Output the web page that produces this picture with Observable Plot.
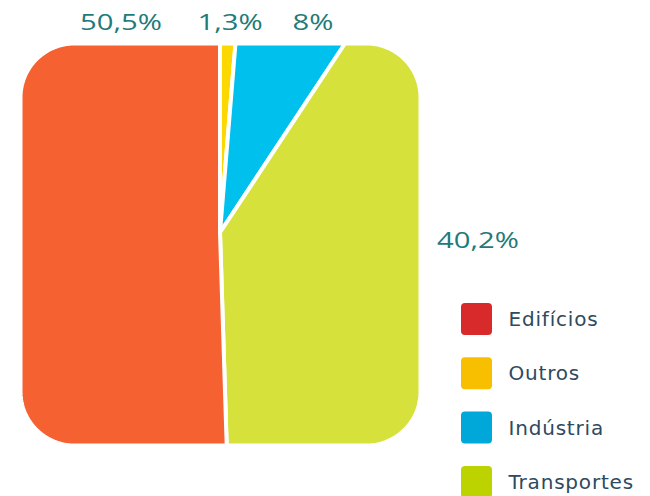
<!DOCTYPE html>
<html>
<head>
<meta charset="utf-8">
<script src="https://cdn.jsdelivr.net/npm/d3@7"></script>
<script src="https://cdn.jsdelivr.net/npm/@observablehq/plot@0.6"></script>
<style>
  html, body { margin: 0; padding: 0; background: #fff; }
  #chart { width: 650px; height: 496px; }
</style>
</head>
<body>
<div id="chart"></div>
<script>
// ---- data ----
const categories   = ["Edifícios", "Outros", "Indústria", "Transportes"];
const shares       = [50.5, 1.3, 8, 40.2];
const shareLabels  = ["50,5%", "1,3%", "8%", "40,2%"];
const pieColors    = ["#F66132", "#FDD800", "#00C0EE", "#D7E13B"];
const legendColors = ["#D92A2B", "#F7BF00", "#00A7D9", "#BCD300"];
const pieOrder     = ["Outros", "Indústria", "Transportes", "Edifícios"]; // clockwise from 12 o'clock

// ---- layout ----
const W = 650, H = 496;
const center = {x: 219.5, y: 232};
const box = {x0: 20, x1: 420, y0: 43, y1: 445, r: 54};   // rounded square the pie is cut to
const labelAnchor = {                                     // where each percentage sits
  "Edifícios":   {x: 120.5, y: 29.5},
  "Outros":      {x: 229.5, y: 29.5},
  "Indústria":   {x: 312.5, y: 29.5},
  "Transportes": {x: 477.5, y: 247}
};
const legend = {x0: 461, size: 32, top: 319, step: 54.3, textX: 508};

// ---- geometry helpers ----
function inside(x, y) {
  const {x0, x1, y0, y1, r} = box;
  if (x < x0 || x > x1 || y < y0 || y > y1) return false;
  const qx = Math.max(x0 + r - x, 0, x - (x1 - r));
  const qy = Math.max(y0 + r - y, 0, y - (y1 - r));
  return qx * qx + qy * qy <= r * r;
}
function reach(theta) {
  let lo = 0, hi = 800;
  for (let k = 0; k < 40; k++) {
    const m = (lo + hi) / 2;
    if (inside(center.x + m * Math.sin(theta), center.y - m * Math.cos(theta))) lo = m; else hi = m;
  }
  return lo;
}

const rows = categories.map((c, i) => ({name: c, share: shares[i], label: shareLabels[i],
  pieColor: pieColors[i], legendColor: legendColors[i], index: i}));
const byName = new Map(rows.map(d => [d.name, d]));

const arcs = d3.pie().sort(null).value(d => d.share)(pieOrder.map(n => byName.get(n)));
const wedgePts = [];
for (const a of arcs) {
  const d = a.data;
  wedgePts.push({name: d.name, fill: d.pieColor, x: center.x, y: center.y});
  const n = Math.max(4, Math.ceil((a.endAngle - a.startAngle) / (Math.PI / 720)));
  for (let k = 0; k <= n; k++) {
    const t = a.startAngle + (a.endAngle - a.startAngle) * k / n;
    const r = reach(t);
    wedgePts.push({name: d.name, fill: d.pieColor, x: center.x + r * Math.sin(t), y: center.y - r * Math.cos(t)});
  }
  wedgePts.push({name: d.name, fill: d.pieColor, x: center.x, y: center.y});
}

const labelRows = rows.map(d => ({...d, lx: labelAnchor[d.name].x, ly: labelAnchor[d.name].y}));
const legendRows = rows.map(d => ({...d, cy: legend.top + d.index * legend.step}));

const svg = Plot.plot({
  width: W, height: H,
  margin: 0,
  x: {domain: [0, W], range: [0, W], axis: null},
  y: {domain: [0, H], range: [0, H], axis: null},
  color: {type: "identity"},
  style: {background: "#fff", overflow: "visible"},
  marks: [
    Plot.line(wedgePts, {x: "x", y: "y", z: "name", fill: "fill", stroke: "#fff",
      strokeWidth: 4, strokeLinejoin: "round"}),
    Plot.text(labelRows, {x: "lx", y: "ly", text: "label", fill: "#1F7B79",
      fontFamily: "Open Sans", fontSize: 22.5, fontWeight: 500, textAnchor: "middle", lineAnchor: "bottom"}),
    Plot.rect(legendRows, {x1: () => legend.x0, x2: () => legend.x0 + legend.size - 1,
      y1: d => d.cy - legend.size / 2, y2: d => d.cy + legend.size / 2,
      fill: "legendColor", rx: 4}),
    Plot.text(legendRows, {x: () => legend.textX, y: "cy", text: "name", fill: "#2E4A5E",
      fontFamily: "DejaVu Sans", fontSize: 20, textAnchor: "start", lineAnchor: "middle"})
  ]
});

// widen the percentage glyphs like the reference's broad face
svg.querySelectorAll("text").forEach(t => {
  const s = t.textContent;
  if (shareLabels.includes(s)) {
    const tr = t.getAttribute("transform");
    if (tr) t.setAttribute("transform", tr + " scale(1.3,1)");
    else {
      const x = +(t.getAttribute("x") || 0), y = +(t.getAttribute("y") || 0);
      t.removeAttribute("x"); t.removeAttribute("y");
      t.setAttribute("transform", `translate(${x},${y}) scale(1.3,1)`);
    }
  } else if (categories.includes(s)) {
    t.setAttribute("letter-spacing", "0.8");
  }
});

document.getElementById("chart").appendChild(svg);
</script>
</body>
</html>
